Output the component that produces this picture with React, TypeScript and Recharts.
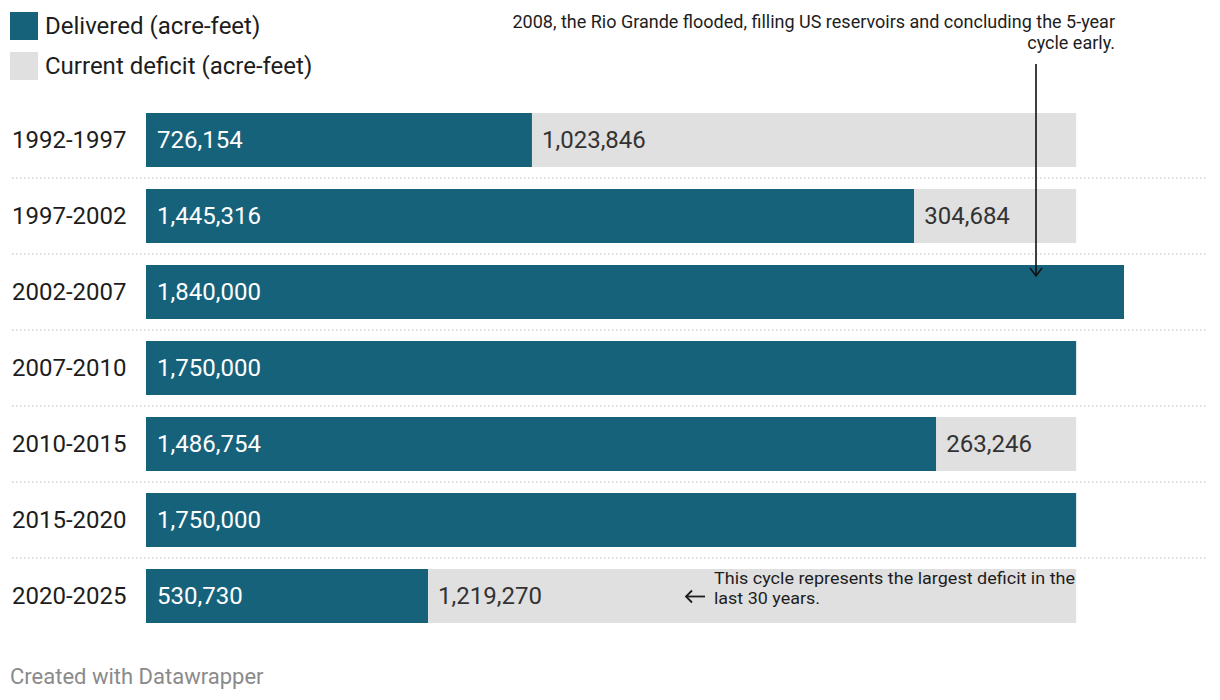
import { Bar, BarChart, LabelList, XAxis, YAxis } from 'recharts'

const periods = ['1992-1997', '1997-2002', '2002-2007', '2007-2010', '2010-2015', '2015-2020', '2020-2025']
const delivered = [726154, 1445316, 1840000, 1750000, 1486754, 1750000, 530730]
const deficit = [1023846, 304684, 0, 0, 263246, 0, 1219270]

const seriesNames = ['Delivered (acre-feet)', 'Current deficit (acre-feet)']
const seriesColors = ['#17627b', '#e0e0e0']

const data = periods.map((period, i) => ({
  period,
  delivered: delivered[i],
  deficit: deficit[i],
}))

const FONT = 'Roboto, sans-serif'
const fmt = (v: number) => v.toLocaleString('en-US')

function RowTick(props: any) {
  const { y, payload, index } = props
  return (
    <g>
      {index > 0 && (
        <line
          x1={12}
          x2={1208}
          y1={y - 38}
          y2={y - 38}
          stroke='#cfcfcf'
          strokeWidth={1.5}
          strokeDasharray='1.5 2.5'
        />
      )}
      <text x={12} y={y} dy={8} fontSize={24} fill='#1d1d1d' fontFamily={FONT}>
        {payload.value}
      </text>
    </g>
  )
}

const makeLabel = (color: string, offset: number) => (props: any) => {
  const { x, y, height, value } = props
  if (!value) return null
  return (
    <text x={x + offset} y={y + height / 2} dy={8} fontSize={24} fill={color} fontFamily={FONT}>
      {fmt(value)}
    </text>
  )
}

export default function App() {
  return (
    <div style={{ position: 'relative', width: 1220, height: 700, background: '#fff', fontFamily: FONT }}>
      <style>{'body{margin:0}'}</style>

      {seriesNames.map((name, i) => (
        <div
          key={name}
          style={{ position: 'absolute', left: 10, top: 12 + i * 40, display: 'flex', alignItems: 'center' }}
        >
          <div style={{ width: 28, height: 28, background: seriesColors[i] }} />
          <span style={{ marginLeft: 7, fontSize: 24, color: '#1d1d1d', lineHeight: '28px' }}>{name}</span>
        </div>
      ))}

      <BarChart
        width={1220}
        height={700}
        data={data}
        layout='vertical'
        margin={{ top: 102, right: 96, bottom: 66, left: 0 }}
        barSize={54}
      >
        <XAxis type='number' hide domain={[0, 1840000]} />
        <YAxis
          type='category'
          dataKey='period'
          width={146}
          axisLine={false}
          tickLine={false}
          tick={<RowTick />}
          interval={0}
        />
        <Bar dataKey='delivered' stackId='a' fill={seriesColors[0]} isAnimationActive={false}>
          <LabelList dataKey='delivered' content={makeLabel('#ffffff', 11)} />
        </Bar>
        <Bar dataKey='deficit' stackId='a' fill={seriesColors[1]} isAnimationActive={false}>
          <LabelList dataKey='deficit' content={makeLabel('#333333', 10)} />
        </Bar>
      </BarChart>

      <svg
        width={1220}
        height={700}
        style={{ position: 'absolute', left: 0, top: 0, pointerEvents: 'none' }}
        fontFamily={FONT}
      >
        <text x={1115} y={28} fontSize={18} fill='#1d1d1d' textAnchor='end'>
          2008, the Rio Grande flooded, filling US reservoirs and concluding the 5-year
        </text>
        <text x={1115} y={49} fontSize={18} fill='#1d1d1d' textAnchor='end'>
          cycle early.
        </text>
        <line x1={1036} x2={1036} y1={64} y2={276} stroke='#111' strokeWidth={1.6} />
        <polyline points='1030,268 1036,276 1042,268' fill='none' stroke='#111' strokeWidth={1.6} />

        <text x={714} y={584} fontSize={17} fill='#1d1d1d' textLength={361} lengthAdjust='spacingAndGlyphs'>
          This cycle represents the largest deficit in the
        </text>
        <text x={714} y={604} fontSize={17} fill='#1d1d1d' textLength={106} lengthAdjust='spacingAndGlyphs'>
          last 30 years.
        </text>
        <line x1={686} x2={705} y1={596.5} y2={596.5} stroke='#1d1d1d' strokeWidth={1.8} />
        <polyline points='692,590.5 686,596.5 692,602.5' fill='none' stroke='#1d1d1d' strokeWidth={1.8} />

        <text x={10} y={684} fontSize={22} fill='#8a8a8a'>
          Created with Datawrapper
        </text>
      </svg>
    </div>
  )
}
